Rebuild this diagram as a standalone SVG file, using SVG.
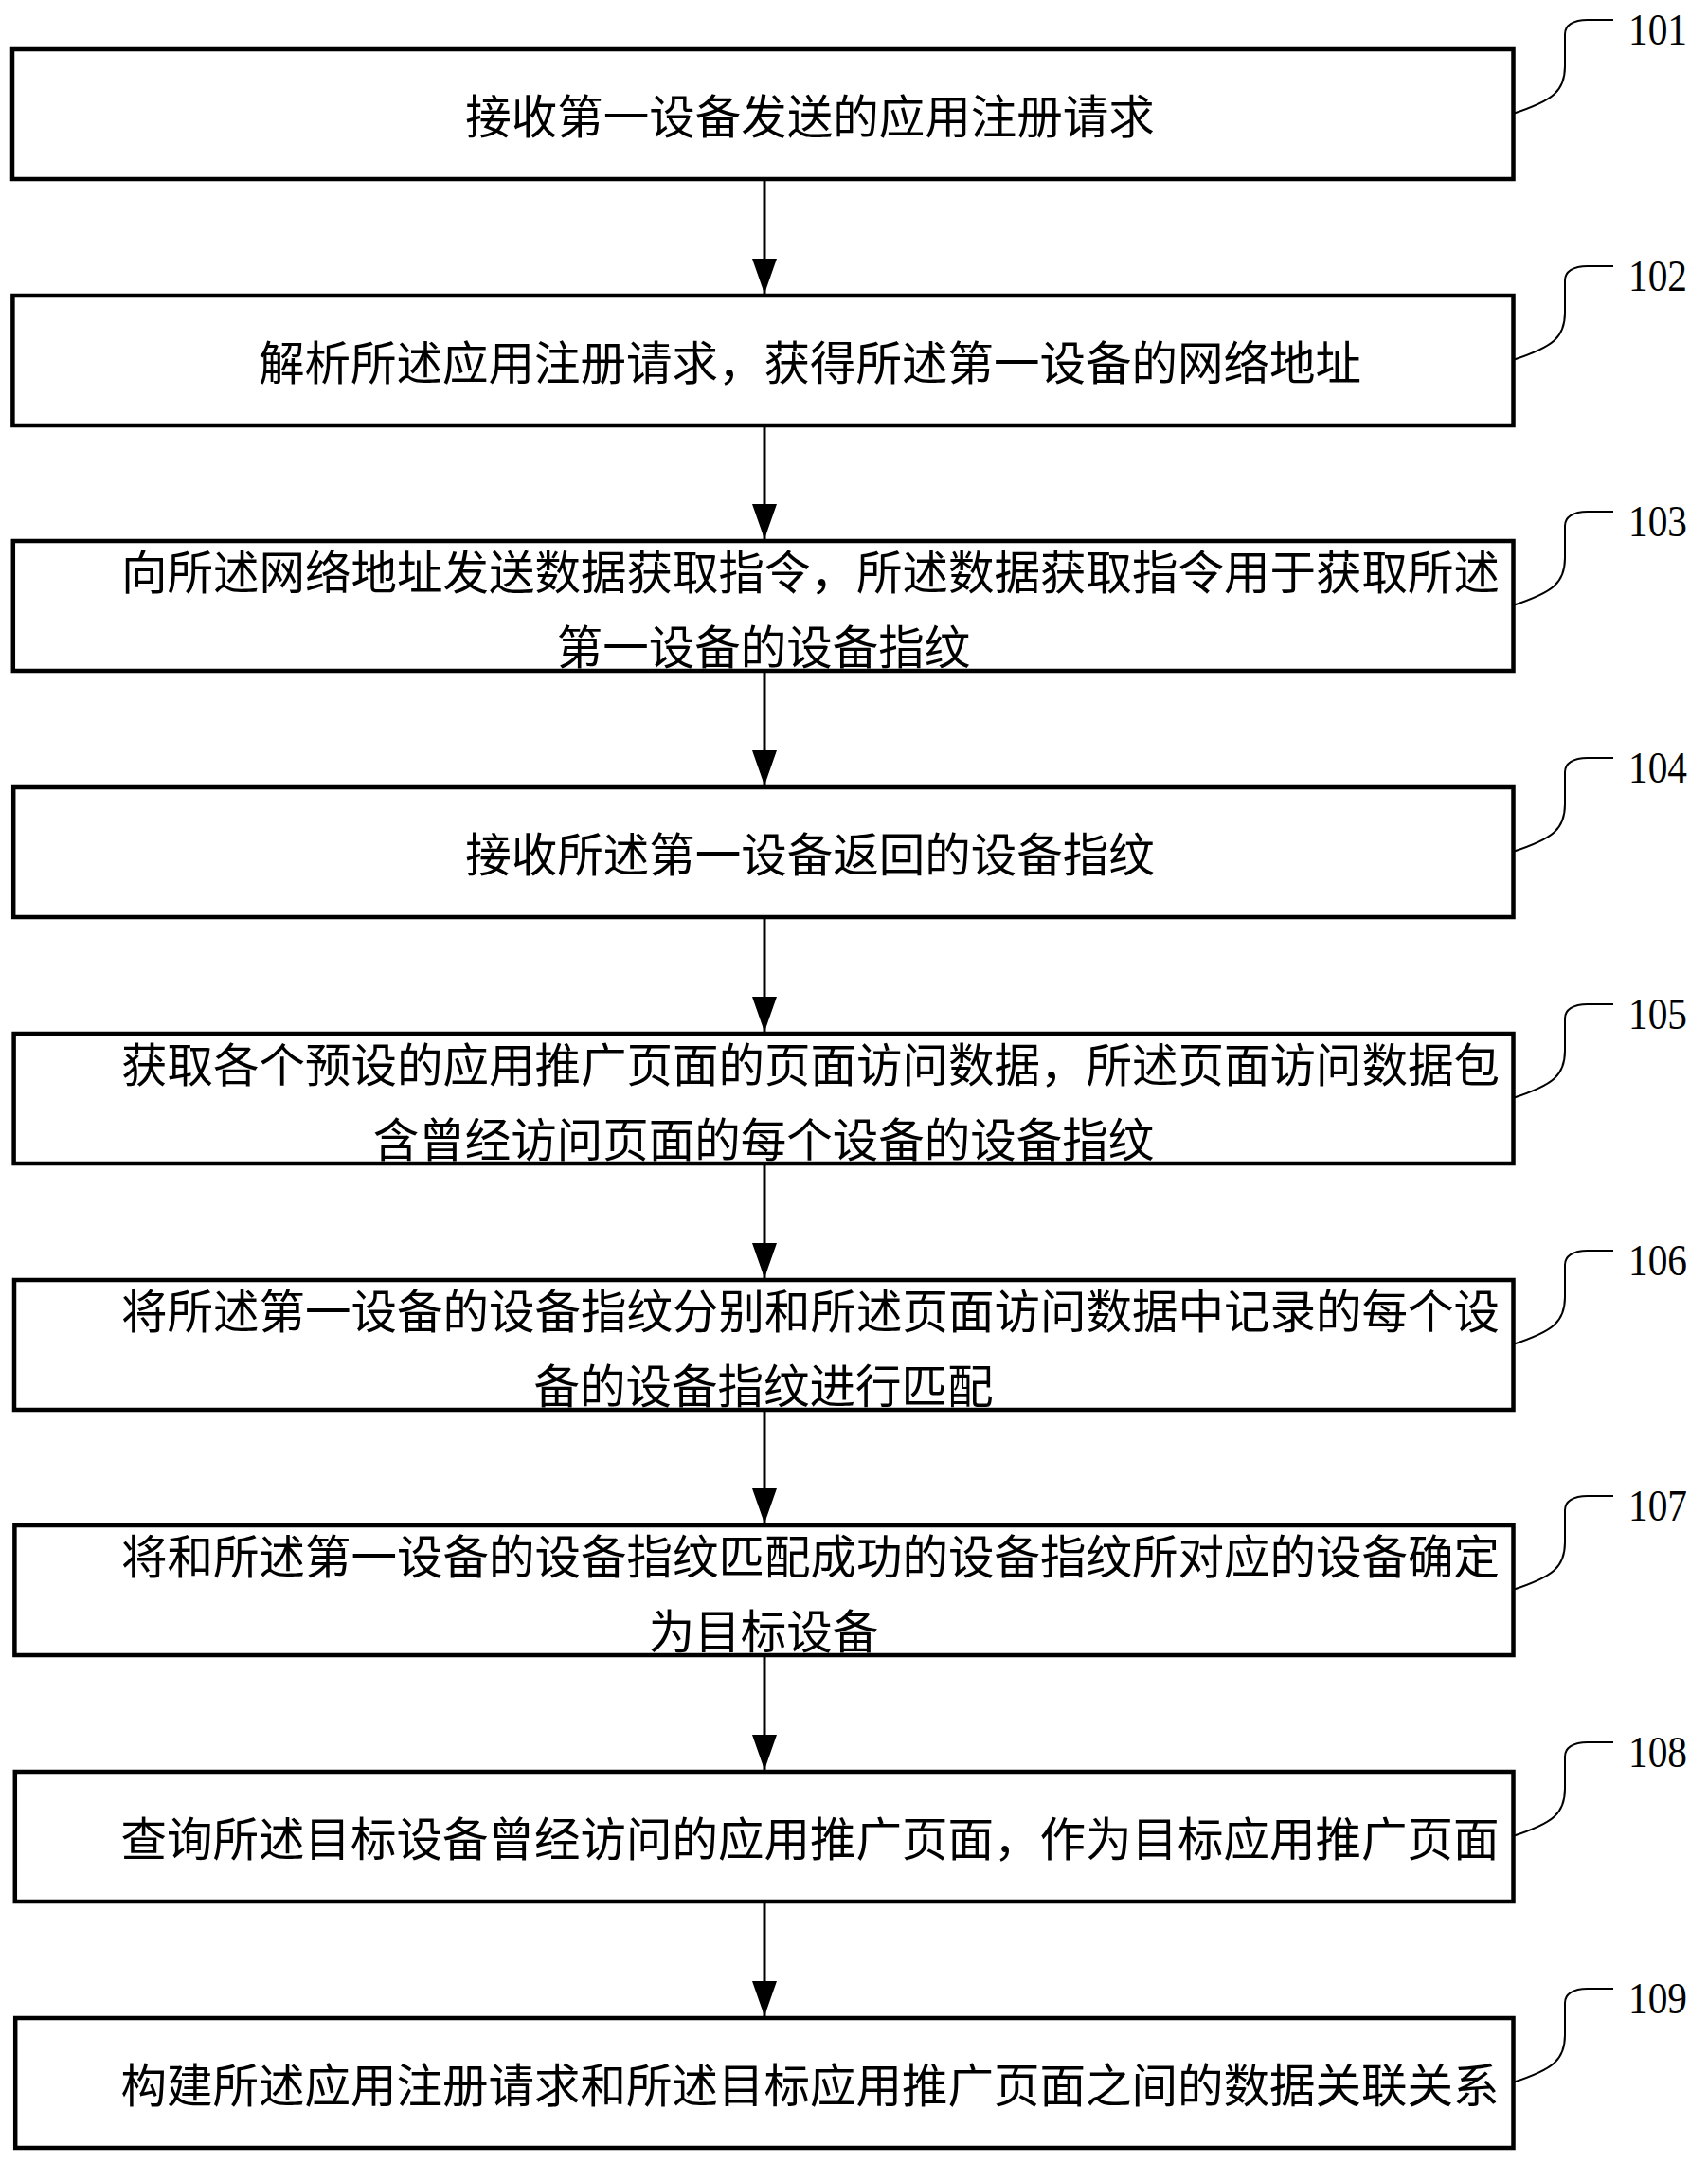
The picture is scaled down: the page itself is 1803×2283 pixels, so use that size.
<svg xmlns="http://www.w3.org/2000/svg" width="1803" height="2283" viewBox="0 0 1803 2283">
<style>
.box{fill:#fff;stroke:#000;stroke-width:4.5}
.t{font-family:"Noto Sans CJK SC","Noto Sans",sans-serif;font-size:48.5px;fill:#000}
.c{text-anchor:middle}
.lbl{font-family:"Liberation Serif","Times New Roman",serif;font-size:46px;fill:#000}
.conn{stroke:#000;stroke-width:3;fill:none}
.call{stroke:#000;stroke-width:2;fill:none}
</style>
<defs>
<marker id="ah" markerUnits="userSpaceOnUse" viewBox="0 0 37 26" refX="37" refY="13" markerWidth="37" markerHeight="26" orient="auto">
<path d="M0,0 L37,13 L0,26 z" fill="#000"/>
</marker>
</defs>
<rect width="1803" height="2283" fill="#fff"/>
<g id="connectors">
<line class="conn" x1="807" y1="191" x2="807" y2="310" marker-end="url(#ah)"/>
<line class="conn" x1="807" y1="451" x2="807" y2="569" marker-end="url(#ah)"/>
<line class="conn" x1="807" y1="710" x2="807" y2="829" marker-end="url(#ah)"/>
<line class="conn" x1="807" y1="970" x2="807" y2="1089" marker-end="url(#ah)"/>
<line class="conn" x1="807" y1="1230" x2="807" y2="1349" marker-end="url(#ah)"/>
<line class="conn" x1="807" y1="1490" x2="807" y2="1608" marker-end="url(#ah)"/>
<line class="conn" x1="807" y1="1749" x2="807" y2="1868" marker-end="url(#ah)"/>
<line class="conn" x1="807" y1="2009" x2="807" y2="2128" marker-end="url(#ah)"/>
</g>
<g id="n101">
<rect class="box" x="13" y="52" width="1584.5" height="137"/>
<text class="t c" x="855" y="141">接收第一设备发送的应用注册请求</text>
<path class="call" d="M1597,120 C1640,106 1652,96 1652,70 L1652,36 C1652,27 1660,21 1676,21 L1703,21"/>
<text class="lbl" x="1719" y="47" textLength="62" lengthAdjust="spacingAndGlyphs">101</text>
</g>
<g id="n102">
<rect class="box" x="13.4" y="312" width="1584.1" height="137"/>
<text class="t c" x="855" y="401">解析所述应用注册请求，获得所述第一设备的网络地址</text>
<path class="call" d="M1597,380 C1640,366 1652,356 1652,330 L1652,296 C1652,287 1660,281 1676,281 L1703,281"/>
<text class="lbl" x="1719" y="307" textLength="62" lengthAdjust="spacingAndGlyphs">102</text>
</g>
<g id="n103">
<rect class="box" x="13.8" y="571" width="1583.7" height="137"/>
<text class="t" x="128" y="622">向所述网络地址发送数据获取指令，所述数据获取指令用于获取所述</text>
<text class="t c" x="806" y="701">第一设备的设备指纹</text>
<path class="call" d="M1597,639 C1640,625 1652,615 1652,589 L1652,555 C1652,546 1660,540 1676,540 L1703,540"/>
<text class="lbl" x="1719" y="566" textLength="62" lengthAdjust="spacingAndGlyphs">103</text>
</g>
<g id="n104">
<rect class="box" x="14.2" y="831" width="1583.3" height="137"/>
<text class="t c" x="855" y="920">接收所述第一设备返回的设备指纹</text>
<path class="call" d="M1597,899 C1640,885 1652,875 1652,849 L1652,815 C1652,806 1660,800 1676,800 L1703,800"/>
<text class="lbl" x="1719" y="826" textLength="62" lengthAdjust="spacingAndGlyphs">104</text>
</g>
<g id="n105">
<rect class="box" x="14.6" y="1091" width="1582.9" height="137"/>
<text class="t" x="128" y="1142">获取各个预设的应用推广页面的页面访问数据，所述页面访问数据包</text>
<text class="t c" x="806" y="1221">含曾经访问页面的每个设备的设备指纹</text>
<path class="call" d="M1597,1159 C1640,1145 1652,1135 1652,1109 L1652,1075 C1652,1066 1660,1060 1676,1060 L1703,1060"/>
<text class="lbl" x="1719" y="1086" textLength="62" lengthAdjust="spacingAndGlyphs">105</text>
</g>
<g id="n106">
<rect class="box" x="15" y="1351" width="1582.5" height="137"/>
<text class="t" x="128" y="1402">将所述第一设备的设备指纹分别和所述页面访问数据中记录的每个设</text>
<text class="t c" x="806" y="1481">备的设备指纹进行匹配</text>
<path class="call" d="M1597,1419 C1640,1405 1652,1395 1652,1369 L1652,1335 C1652,1326 1660,1320 1676,1320 L1703,1320"/>
<text class="lbl" x="1719" y="1346" textLength="62" lengthAdjust="spacingAndGlyphs">106</text>
</g>
<g id="n107">
<rect class="box" x="15.4" y="1610" width="1582.1" height="137"/>
<text class="t" x="128" y="1661">将和所述第一设备的设备指纹匹配成功的设备指纹所对应的设备确定</text>
<text class="t c" x="806" y="1740">为目标设备</text>
<path class="call" d="M1597,1678 C1640,1664 1652,1654 1652,1628 L1652,1594 C1652,1585 1660,1579 1676,1579 L1703,1579"/>
<text class="lbl" x="1719" y="1605" textLength="62" lengthAdjust="spacingAndGlyphs">107</text>
</g>
<g id="n108">
<rect class="box" x="15.8" y="1870" width="1581.7" height="137"/>
<text class="t c" x="855" y="1959">查询所述目标设备曾经访问的应用推广页面，作为目标应用推广页面</text>
<path class="call" d="M1597,1938 C1640,1924 1652,1914 1652,1888 L1652,1854 C1652,1845 1660,1839 1676,1839 L1703,1839"/>
<text class="lbl" x="1719" y="1865" textLength="62" lengthAdjust="spacingAndGlyphs">108</text>
</g>
<g id="n109">
<rect class="box" x="16.2" y="2130" width="1581.3" height="137"/>
<text class="t c" x="855" y="2219">构建所述应用注册请求和所述目标应用推广页面之间的数据关联关系</text>
<path class="call" d="M1597,2198 C1640,2184 1652,2174 1652,2148 L1652,2114 C1652,2105 1660,2099 1676,2099 L1703,2099"/>
<text class="lbl" x="1719" y="2125" textLength="62" lengthAdjust="spacingAndGlyphs">109</text>
</g>
</svg>
